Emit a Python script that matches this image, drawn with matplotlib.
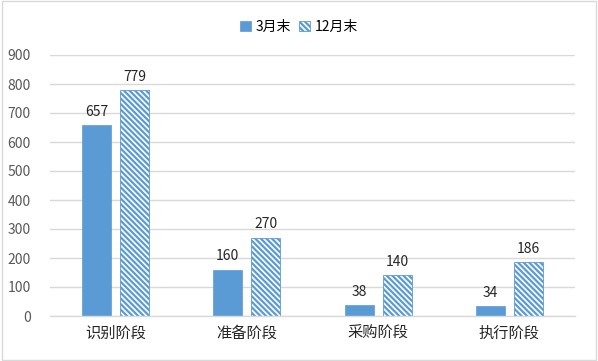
import matplotlib
matplotlib.use("Agg")
import matplotlib.pyplot as plt
import numpy as np
from matplotlib.patches import Rectangle

plt.rcParams['font.family'] = ['Noto Sans CJK SC', 'DejaVu Sans']
plt.rcParams['hatch.linewidth'] = 1.6
plt.rcParams['hatch.color'] = '#5B9BD5'

categories = ['识别阶段', '准备阶段', '采购阶段', '执行阶段']
march = [657, 160, 38, 34]
december = [779, 270, 140, 186]
series_names = ['3月末', '12月末']

blue = '#5B9BD5'

fig = plt.figure(figsize=(5.98, 3.61), dpi=100)
fig.patches.append(Rectangle((0.003, 0.003), 0.994, 0.994, transform=fig.transFigure,
                             fill=False, edgecolor='#D9D9D9', linewidth=1))
ax = fig.add_axes([50 / 598, 1 - 316 / 361, 525 / 598, 261 / 361])

x = np.arange(len(categories))
w = 0.22
gap = 0.035
b1 = ax.bar(x - w / 2 - gap, march, w, color=blue, edgecolor=blue, linewidth=0.5, label=series_names[0])
b2 = ax.bar(x + w / 2 + gap, december, w, color='white', edgecolor=blue, linewidth=0.6,
            hatch='\\\\\\\\\\\\', label=series_names[1])

for bars in (b1, b2):
    for bar in bars:
        h = bar.get_height()
        ax.text(bar.get_x() + bar.get_width() / 2, h + 22, f"{int(h)}",
                ha='center', va='bottom', fontsize=10, color='#262626')

ax.set_ylim(0, 900)
ax.set_xlim(-0.5, 3.5)
ax.set_yticks(np.arange(0, 901, 100))
ax.set_xticks(x)
ax.set_xticklabels(categories, fontsize=11, color='#262626')
ax.tick_params(axis='y', labelsize=10, labelcolor='#595959', length=0, pad=14)
ax.tick_params(axis='x', length=0, pad=6)
ax.grid(axis='y', color='#D9D9D9', linewidth=1)
ax.set_axisbelow(True)
for s in ('top', 'right', 'left'):
    ax.spines[s].set_visible(False)
ax.spines['bottom'].set_color('#D9D9D9')
ax.spines['bottom'].set_linewidth(1)

fig.legend(loc='center', bbox_to_anchor=(0.5, 27 / 361 * -1 + 1), ncol=2, frameon=False,
           fontsize=10, handlelength=0.8, handleheight=0.8, handletextpad=0.3, columnspacing=0.6)

fig.savefig('out.png', dpi=100)
